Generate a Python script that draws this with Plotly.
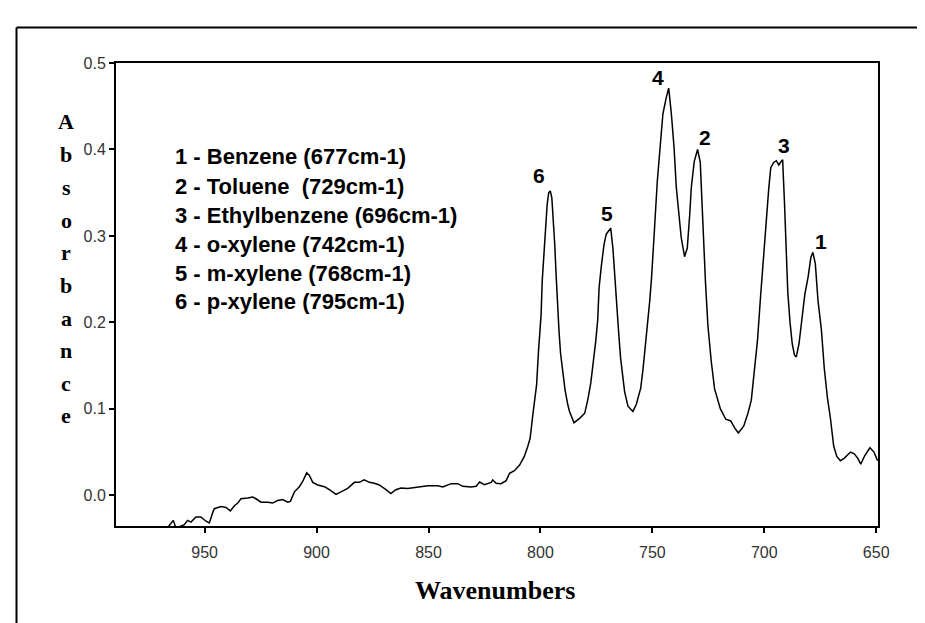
import plotly.graph_objects as go

# ---- data (wavenumber cm-1, absorbance) ----
wavenumber = [
    968.0, 965.1, 964.0, 962.8, 959.1, 957.6, 956.1, 953.9, 951.7, 949.4,
    947.9, 946.4, 945.7, 942.7, 940.5, 938.5, 936.7, 935.2, 933.8, 930.8,
    928.5, 927.1, 924.8, 921.8, 919.6, 917.4, 915.1, 912.9, 911.7, 909.9,
    907.7, 906.2, 904.4, 903.2, 901.7, 899.5, 896.5, 894.3, 891.3, 889.1,
    886.1, 883.1, 880.9, 878.7, 876.4, 874.2, 872.0, 869.0, 866.8, 864.6,
    862.3, 859.3, 854.8, 850.3, 845.8, 843.6, 839.9, 836.9, 834.7, 831.0,
    828.7, 827.2, 825.0, 823.5, 822.0, 821.3, 819.8, 817.6, 815.3, 813.8,
    811.6, 809.3, 807.2, 805.6, 804.6, 803.4, 802.5, 801.7, 800.9, 800.2,
    799.7, 799.2, 798.5, 797.7, 797.0, 796.3, 795.6, 794.9, 794.2, 793.6,
    793.0, 792.3, 791.7, 791.0, 790.0, 789.0, 787.8, 787.0, 785.0, 782.5,
    780.2, 778.8, 777.5, 776.3, 775.3, 774.4, 773.8, 772.8, 771.6, 770.6,
    769.6, 768.6, 767.6, 766.9, 766.2, 765.1, 764.2, 763.4, 762.4, 760.9,
    758.7, 757.2, 755.2, 754.2, 753.2, 752.3, 751.2, 750.4, 749.4, 749.0,
    747.8, 746.5, 745.3, 743.8, 742.7, 741.5, 740.3, 739.3, 738.3, 737.1,
    735.6, 734.4, 733.3, 732.6, 731.3, 729.8, 728.6, 727.4, 726.3, 725.2,
    723.7, 722.2, 719.6, 717.2, 715.0, 713.2, 711.6, 709.2, 707.3, 705.8,
    704.3, 703.0, 701.8, 700.8, 699.8, 698.8, 698.0, 697.1, 695.8, 694.6,
    693.5, 692.5, 691.8, 691.0, 690.3, 689.5, 688.5, 687.5, 686.5, 685.7,
    684.5, 683.4, 681.9, 680.4, 679.2, 678.3, 677.2, 676.0, 674.5, 673.2,
    671.8, 670.5, 669.0, 667.6, 666.0, 664.2, 663.0, 661.5, 659.8, 658.3,
    656.9, 655.1, 652.8, 651.0, 649.4,
]
absorbance = [
    -0.042, -0.032, -0.029, -0.038, -0.034, -0.029, -0.031, -0.025, -0.025, -0.030,
    -0.032, -0.020, -0.0155, -0.013, -0.014, -0.018, -0.012, -0.009, -0.004, -0.003,
    -0.002, -0.004, -0.008, -0.008, -0.009, -0.006, -0.005, -0.008, -0.007, 0.004,
    0.010, 0.016, 0.026, 0.023, 0.015, 0.012, 0.010, 0.0065, 0.001, 0.004,
    0.008, 0.015, 0.015, 0.018, 0.015, 0.014, 0.012, 0.0065, 0.002, 0.0065,
    0.0085, 0.008, 0.0096, 0.011, 0.011, 0.0096, 0.0135, 0.0135, 0.0104, 0.0096,
    0.0104, 0.0154, 0.0123, 0.0135, 0.015, 0.0177, 0.0139, 0.0135, 0.017, 0.0255,
    0.0285, 0.035, 0.045, 0.057, 0.066, 0.093, 0.110, 0.128, 0.165, 0.190,
    0.209, 0.248, 0.275, 0.305, 0.336, 0.350, 0.352, 0.344, 0.320, 0.290,
    0.255, 0.210, 0.190, 0.164, 0.143, 0.122, 0.105, 0.097, 0.084, 0.089,
    0.095, 0.111, 0.130, 0.155, 0.178, 0.203, 0.240, 0.265, 0.290, 0.302,
    0.305, 0.309, 0.285, 0.255, 0.226, 0.190, 0.159, 0.138, 0.120, 0.103,
    0.097, 0.105, 0.124, 0.145, 0.170, 0.190, 0.224, 0.250, 0.285, 0.310,
    0.363, 0.402, 0.441, 0.460, 0.471, 0.441, 0.402, 0.356, 0.325, 0.298,
    0.276, 0.286, 0.325, 0.356, 0.386, 0.400, 0.385, 0.309, 0.248, 0.197,
    0.155, 0.123, 0.100, 0.088, 0.086, 0.078, 0.072, 0.080, 0.095, 0.110,
    0.147, 0.180, 0.225, 0.260, 0.300, 0.335, 0.355, 0.379, 0.385, 0.387,
    0.382, 0.386, 0.388, 0.340, 0.286, 0.235, 0.200, 0.175, 0.162, 0.160,
    0.175, 0.201, 0.232, 0.253, 0.275, 0.281, 0.268, 0.225, 0.192, 0.147,
    0.113, 0.090, 0.057, 0.045, 0.040, 0.043, 0.046, 0.050, 0.048, 0.043,
    0.036, 0.046, 0.055, 0.050, 0.040,
]

x_ticks = [950, 900, 850, 800, 750, 700, 650]
y_ticks = [0.0, 0.1, 0.2, 0.3, 0.4, 0.5]
y_tick_text = ["0.0", "0.1", "0.2", "0.3", "0.4", "0.5"]

peak_labels = ["6", "5", "4", "2", "3", "1"]
peak_label_x = [800.5, 770.2, 747.7, 726.6, 691.4, 674.5]
peak_label_y = [0.370, 0.326, 0.483, 0.4135, 0.405, 0.293]

key_lines = [
    "1 - Benzene (677cm-1)",
    "2 - Toluene \u00a0(729cm-1)",
    "3 - Ethylbenzene (696cm-1)",
    "4 - o-xylene (742cm-1)",
    "5 - m-xylene (768cm-1)",
    "6 - p-xylene (795cm-1)",
]
y_title = "Absorbance"
x_title = "Wavenumbers"

# ---- figure ----
W, H = 925, 623
ML, MR, MT, MB = 108, 55, 55, 105
PW, PH = W - ML - MR, H - MT - MB


def px_to_paper_x(px):
    return (px - ML) / PW


def px_to_paper_y(py):
    return (H - MB - py) / PH


fig = go.Figure()
fig.add_trace(go.Scatter(
    x=wavenumber, y=absorbance, mode="lines",
    line=dict(color="black", width=1.5), hoverinfo="skip", showlegend=False,
))

tick_font = dict(family="Liberation Sans, Arial, sans-serif", size=16, color="#333333")
fig.update_xaxes(
    range=[989.6, 649.2], tickvals=x_ticks, ticks="outside", ticklen=5, tickwidth=1.5,
    tickcolor="black", showline=True, linecolor="black", linewidth=2, mirror=True,
    showgrid=False, zeroline=False, tickfont=tick_font, ticklabelstandoff=6,
)
fig.update_yaxes(
    range=[-0.0355, 0.5], tickvals=y_ticks, ticktext=y_tick_text, ticks="outside",
    ticklen=5, tickwidth=1.5, tickcolor="black", showline=True, linecolor="black",
    linewidth=2, mirror=True, showgrid=False, zeroline=False, tickfont=tick_font,
)

annotations = []
bold_sans = dict(family="Liberation Sans, Arial, sans-serif", size=22, color="black")
# key lines
key_y_px = [148.3, 178.3, 207.3, 236.7, 265.0, 293.3]
for txt, ypx in zip(key_lines, key_y_px):
    annotations.append(dict(
        text="<b>" + txt + "</b>", xref="paper", yref="paper",
        x=px_to_paper_x(165), y=px_to_paper_y(ypx), xanchor="left", yanchor="middle",
        showarrow=False, font=bold_sans,
    ))
# peak labels
for lab, lx, ly in zip(peak_labels, peak_label_x, peak_label_y):
    annotations.append(dict(
        text="<b>" + lab + "</b>", x=lx, y=ly, xref="x", yref="y",
        showarrow=False, xanchor="center", yanchor="middle",
        font=dict(family="Liberation Sans, Arial, sans-serif", size=21, color="black"),
    ))
# vertical y title, one letter per line
serif_bold = dict(family="Liberation Serif, Times New Roman, serif", size=22, color="black")
n = len(y_title)
for i, ch in enumerate(y_title):
    ypx = 114 + i * (408 - 114) / (n - 1)
    annotations.append(dict(
        text="<b>" + ch + "</b>", xref="paper", yref="paper",
        x=px_to_paper_x(58), y=px_to_paper_y(ypx), xanchor="center", yanchor="middle",
        showarrow=False, font=serif_bold,
    ))
# x title
annotations.append(dict(
    text="<b>" + x_title + "</b>", xref="paper", yref="paper",
    x=px_to_paper_x(487), y=px_to_paper_y(582), xanchor="center", yanchor="middle",
    showarrow=False,
    font=dict(family="Liberation Serif, Times New Roman, serif", size=26, color="black"),
))

# outer frame
frame = dict(color="black", width=2)
shapes = [
    dict(type="line", xref="paper", yref="paper", x0=px_to_paper_x(8.5), x1=px_to_paper_x(923.5),
         y0=px_to_paper_y(19.5), y1=px_to_paper_y(19.5), line=frame),
    dict(type="line", xref="paper", yref="paper", x0=px_to_paper_x(8.5), x1=px_to_paper_x(8.5),
         y0=px_to_paper_y(19.5), y1=px_to_paper_y(640), line=frame),
    dict(type="line", xref="paper", yref="paper", x0=px_to_paper_x(923.5), x1=px_to_paper_x(923.5),
         y0=px_to_paper_y(19.5), y1=px_to_paper_y(640), line=frame),
]

fig.update_layout(
    width=W, height=H, margin=dict(l=ML, r=MR, t=MT, b=MB),
    paper_bgcolor="white", plot_bgcolor="white",
    annotations=annotations, shapes=shapes, showlegend=False,
)

fig.write_html("out.html")
